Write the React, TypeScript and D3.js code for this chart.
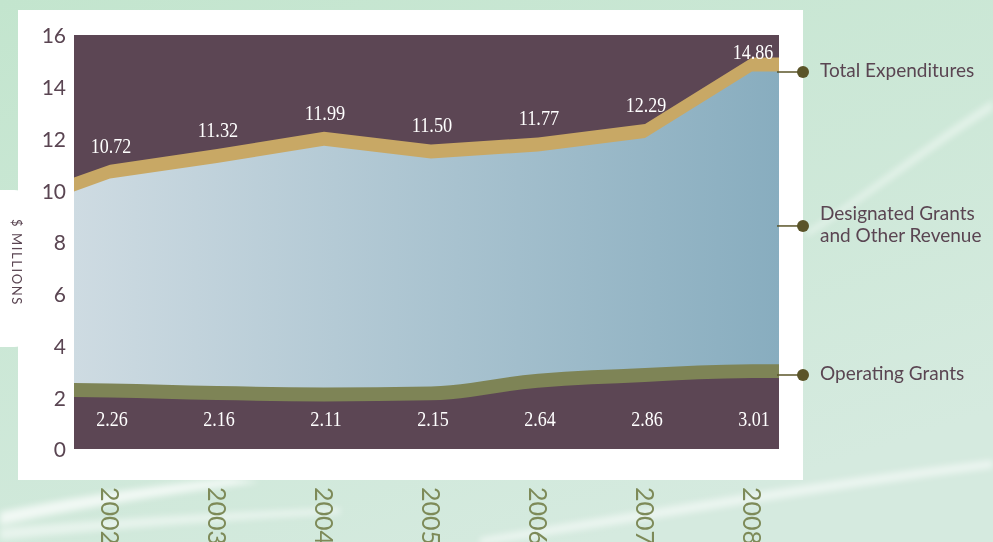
import * as d3 from "d3";

const years = [2002, 2003, 2004, 2005, 2006, 2007, 2008];
const totalExpenditures = [10.72, 11.32, 11.99, 11.5, 11.77, 12.29, 14.86];
const operatingGrants = [2.26, 2.16, 2.11, 2.15, 2.64, 2.86, 3.01];
// where the bands enter the plot at its left edge
const totalAtStart = 10.22;
const operatingAtStart = 2.28;
const yTicks = [0, 2, 4, 6, 8, 10, 12, 14, 16];
const legendItems = [
  { lines: ["Total Expenditures"], value: 14.57 },
  { lines: ["Designated Grants", "and Other Revenue"], value: 8.62 },
  { lines: ["Operating Grants"], value: 2.86 },
];

const W = 993;
const H = 542;
const plot = { left: 74, right: 779, top: 35, bottom: 449 };
const half = 0.27;

const purple = "#5c4654";
const tan = "#c8a865";
const olive = "#7e8456";
const textCol = "#5a4552";

export default function App() {
  const x = d3.scaleLinear().domain([2002, 2008]).range([110, 752]);
  const y = d3.scaleLinear().domain([0, 16]).range([plot.bottom, plot.top]);

  const pts = [
    { yr: x.invert(plot.left), tot: totalAtStart, op: operatingAtStart },
    ...years.map((yr, i) => ({ yr, tot: totalExpenditures[i], op: operatingGrants[i] })),
    {
      yr: x.invert(plot.right),
      tot: totalExpenditures[totalExpenditures.length - 1],
      op: operatingGrants[operatingGrants.length - 1],
    },
  ];

  const blue = d3
    .area<any>()
    .x((d) => x(d.yr))
    .y0((d) => y(d.op))
    .y1((d) => y(d.tot));
  const tanBand = d3
    .area<any>()
    .x((d) => x(d.yr))
    .y0((d) => y(d.tot - half))
    .y1((d) => y(d.tot + half));
  const greenBand = d3
    .area<any>()
    .x((d) => x(d.yr))
    .y0((d) => y(d.op - half))
    .y1((d) => y(d.op + half))
    .curve(d3.curveMonotoneX);

  const labelFont = 22;
  const labelLen = (s: string) => labelFont * 0.82 * ((s.length - 1) * 0.5 + 0.25);

  return (
    <svg width={W} height={H} style={{ position: "absolute", left: 0, top: 0 }}>
      <defs>
        <linearGradient id="bg" x1="0" y1="0" x2="0.6" y2="1">
          <stop offset="0" stopColor="#c3e5ce" />
          <stop offset="1" stopColor="#d5eadf" />
        </linearGradient>
        <linearGradient id="blue" gradientUnits="userSpaceOnUse" x1={plot.left} x2={plot.right} y1="0" y2="0">
          <stop offset="0" stopColor="#cedbe2" />
          <stop offset="1" stopColor="#88adbf" />
        </linearGradient>
        <filter id="soft" x="-10%" y="-50%" width="120%" height="200%">
          <feGaussianBlur stdDeviation="3" />
        </filter>
        <clipPath id="plotClip">
          <rect x={plot.left} y={plot.top} width={plot.right - plot.left} height={plot.bottom - plot.top} />
        </clipPath>
      </defs>

      {/* background */}
      <rect width={W} height={H} fill="url(#bg)" />
      <g filter="url(#soft)">
        <path d="M0,512 C60,500 130,488 230,478 L260,482 C160,495 70,510 0,525 Z" fill="#ffffff" opacity={0.7} />
        <path d="M0,528 C100,520 220,512 340,508 L340,514 C220,520 100,530 0,540 Z" fill="#ffffff" opacity={0.5} />
        <path d="M480,538 C650,510 820,480 993,460 L993,468 C820,490 650,520 480,545 Z" fill="#ffffff" opacity={0.55} />
        <path d="M993,100 C930,140 870,190 805,232 L808,236 C872,196 932,148 993,110 Z" fill="#ffffff" opacity={0.45} />
      </g>

      {/* white panel + tab */}
      <rect x={-20} y={190} width={50} height={157} rx={16} fill="#fff" />
      <rect x={18} y={10} width={785} height={470} fill="#fff" />

      <text
        transform={`translate(12, 219) rotate(90)`}
        fontFamily="Lato"
        fontSize={13}
        letterSpacing={1.6}
        fill={textCol}
      >
        $ MILLIONS
      </text>

      {/* plot */}
      <rect x={plot.left} y={plot.top} width={plot.right - plot.left} height={plot.bottom - plot.top} fill={purple} />
      <g clipPath="url(#plotClip)">
        <path d={blue(pts) ?? ""} fill="url(#blue)" />
        <path d={tanBand(pts) ?? ""} fill={tan} />
        <path d={greenBand(pts) ?? ""} fill={olive} />
      </g>

      {/* y ticks */}
      {yTicks.map((t) => (
        <text
          key={t}
          x={66}
          y={y(t) + 3}
          textAnchor="end"
          dominantBaseline="middle"
          fontFamily="Lato"
          fontSize={21}
          fill={textCol}
        >
          {t}
        </text>
      ))}

      {/* value labels */}
      {years.map((yr, i) => {
        const s = totalExpenditures[i].toFixed(2);
        return (
          <text
            key={"t" + yr}
            x={x(yr) + 1}
            y={Math.max(y(totalExpenditures[i]) - 19, plot.top + 24)}
            textAnchor="middle"
            fontFamily="Liberation Serif"
            fontSize={labelFont}
            fill="#fff"
            textLength={labelLen(s)}
            lengthAdjust="spacingAndGlyphs"
          >
            {s}
          </text>
        );
      })}
      {years.map((yr, i) => {
        const s = operatingGrants[i].toFixed(2);
        return (
          <text
            key={"o" + yr}
            x={x(yr) + 2}
            y={plot.bottom - 23}
            textAnchor="middle"
            fontFamily="Liberation Serif"
            fontSize={labelFont}
            fill="#fff"
            textLength={labelLen(s)}
            lengthAdjust="spacingAndGlyphs"
          >
            {s}
          </text>
        );
      })}

      {/* year labels */}
      {years.map((yr) => (
        <text
          key={"y" + yr}
          transform={`translate(${x(yr) - 9}, 487) rotate(90)`}
          fontFamily="Lato"
          fontSize={25}
          fill="#7d8a58"
        >
          {yr}
        </text>
      ))}

      {/* legend */}
      {legendItems.map((d) => {
        const cy = y(d.value);
        const n = d.lines.length;
        return (
          <g key={d.lines[0]}>
            <line x1={plot.right - 2} x2={803} y1={cy} y2={cy} stroke="#5a5428" strokeWidth={1.5} />
            <circle cx={803} cy={cy} r={6} fill="#5a5428" />
            {d.lines.map((l, j) => (
              <text
                key={l}
                x={820}
                y={cy + (j - (n - 1) / 2) * 22}
                dominantBaseline="middle"
                fontFamily="Lato"
                fontSize={19}
                fill={textCol}
              >
                {l}
              </text>
            ))}
          </g>
        );
      })}
    </svg>
  );
}
